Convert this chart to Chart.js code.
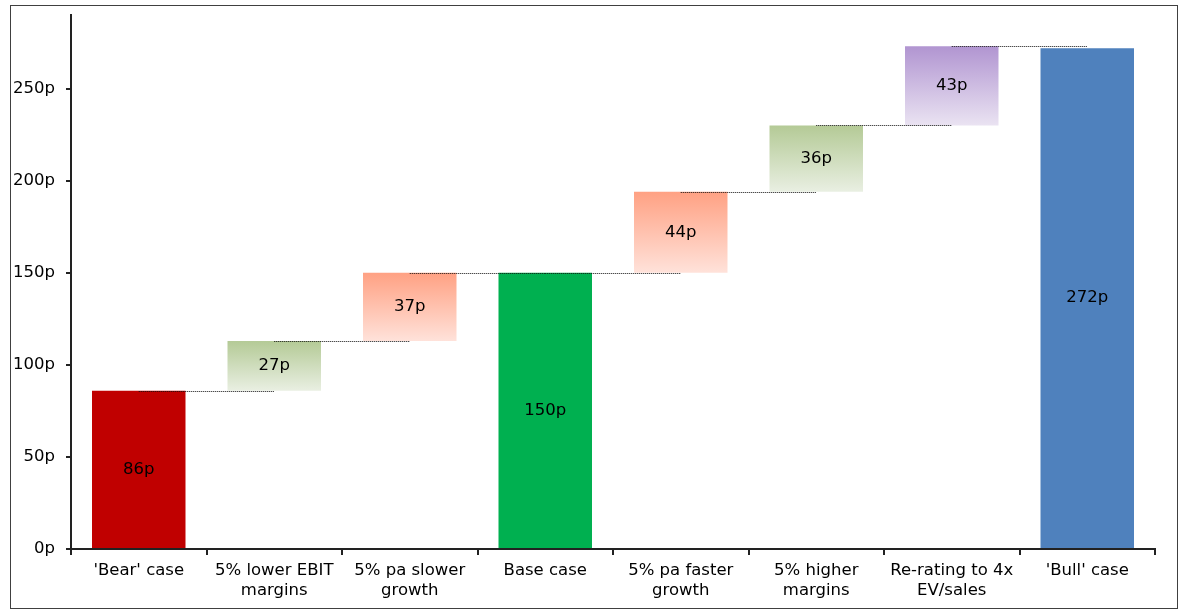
<!DOCTYPE html>
<html>
<head>
<meta charset="utf-8">
<title>Share price scenarios – bear to bull</title>
<script src="https://cdn.jsdelivr.net/npm/chart.js@4.4.1/dist/chart.umd.min.js"></script>
<style>
  html, body { margin: 0; padding: 0; background: #ffffff; }
  #wrap { width: 1193px; height: 610px; position: relative; }
</style>
</head>
<body>
<div id="wrap"><canvas id="chart"></canvas></div>
<script>
// Scenario steps, left to right
const categories = [
  ["'Bear' case"],
  ["5% lower EBIT", "margins"],
  ["5% pa slower", "growth"],
  ["Base case"],
  ["5% pa faster", "growth"],
  ["5% higher", "margins"],
  ["Re-rating to 4x", "EV/sales"],
  ["'Bull' case"]
];
// Value of each step in pence: totals stand on zero, steps add to the running total
const stepValues = [86, 27, 37, 150, 44, 36, 43, 272];
const stepKinds  = ["total", "up", "up", "total", "up", "up", "up", "total"];
// Fill colours: solid for totals, [top, bottom] gradient stops for steps
const stepColors = [
  "#C00000",
  ["#B4CA96", "#E9EFE2"],
  ["#FFA183", "#FFE2DA"],
  "#00B050",
  ["#FFA183", "#FFE2DA"],
  ["#B4CA96", "#E9EFE2"],
  ["#B195D1", "#EAE3F2"],
  "#4F81BD"
];
const yTicks = [0, 50, 100, 150, 200, 250];
const yMax = 290;

// Floating bar ranges built from the step values
const ranges = [];
let running = 0;
stepValues.forEach((v, i) => {
  if (stepKinds[i] === "total") { ranges.push([0, v]); running = v; }
  else { ranges.push([running, running + v]); running += v; }
});

const FONT = "'DejaVu Sans', Verdana, sans-serif";

function fillFor(ctx) {
  const i = ctx.dataIndex;
  const c = stepColors[i];
  if (typeof c === "string") return c;
  const chart = ctx.chart;
  const ys = chart.scales && chart.scales.y;
  if (!ys || ys.top === undefined) return c[0];
  const top = ys.getPixelForValue(ranges[i][1]);
  const bot = ys.getPixelForValue(ranges[i][0]);
  const g = chart.ctx.createLinearGradient(0, top, 0, bot);
  g.addColorStop(0, c[0]);
  g.addColorStop(1, c[1]);
  return g;
}

// Dotted connectors from each bar's top to the next bar's centre
const connectors = {
  id: "connectors",
  afterDatasetsDraw(chart) {
    const meta = chart.getDatasetMeta(0);
    const ys = chart.scales.y;
    const c = chart.ctx;
    c.save();
    c.strokeStyle = "#111";
    c.lineWidth = 1;
    c.setLineDash([1, 1]);
    for (let i = 0; i < meta.data.length - 1; i++) {
      const y = Math.round(ys.getPixelForValue(ranges[i][1])) + 0.5;
      c.beginPath();
      c.moveTo(meta.data[i].x, y);
      c.lineTo(meta.data[i + 1].x, y);
      c.stroke();
    }
    c.restore();
  }
};

// Value labels centred in each bar
const barLabels = {
  id: "barLabels",
  afterDatasetsDraw(chart) {
    const meta = chart.getDatasetMeta(0);
    const c = chart.ctx;
    c.save();
    c.fillStyle = "#000";
    c.font = "16.5px " + FONT;
    c.textAlign = "center";
    c.textBaseline = "middle";
    meta.data.forEach((bar, i) => {
      c.fillText(stepValues[i] + "p", bar.x, (bar.y + bar.base) / 2);
    });
    c.restore();
  }
};

// White page with a thin frame round the chart
const frame = {
  id: "frame",
  beforeDraw(chart) {
    const c = chart.ctx;
    c.save();
    c.fillStyle = "#fff";
    c.fillRect(0, 0, chart.width, chart.height);
    c.restore();
  },
  afterDraw(chart) {
    const c = chart.ctx;
    c.save();
    c.strokeStyle = "#404040";
    c.lineWidth = 1;
    c.strokeRect(10.5, 5.5, 1167, 603);
    c.restore();
  }
};

new Chart(document.getElementById("chart"), {
  type: "bar",
  data: {
    labels: categories,
    datasets: [{
      data: ranges,
      backgroundColor: fillFor,
      borderWidth: 0,
      categoryPercentage: 1,
      barPercentage: 0.69
    }]
  },
  options: {
    responsive: true,
    maintainAspectRatio: false,
    animation: false,
    events: [],
    layout: { padding: { left: 0, top: 15, right: 38, bottom: 0 } },
    plugins: { legend: { display: false }, tooltip: { enabled: false } },
    scales: {
      x: {
        afterFit(s) { s.height = 61; s.paddingLeft = 0; s.paddingRight = 0; },
        grid: {
          display: true, drawOnChartArea: false, offset: true,
          color: "#222", lineWidth: 2, tickLength: 6
        },
        border: { display: true, color: "#222", width: 2 },
        ticks: {
          color: "#000", padding: 6, maxRotation: 0, autoSkip: false,
          font: { family: FONT, size: 16.5, lineHeight: 1.2 }
        }
      },
      y: {
        min: 0, max: yMax,
        afterFit(s) { s.width = 71; s.paddingTop = 0; s.paddingBottom = 0; },
        afterBuildTicks(s) { s.ticks = yTicks.map(v => ({ value: v })); },
        grid: {
          display: true, drawOnChartArea: false,
          color: "#222", lineWidth: 2, tickLength: 5
        },
        border: { display: true, color: "#222", width: 2 },
        ticks: {
          color: "#000", padding: 11,
          font: { family: FONT, size: 16.5 },
          callback: v => v + "p"
        }
      }
    }
  },
  plugins: [frame, connectors, barLabels]
});
</script>
</body>
</html>
